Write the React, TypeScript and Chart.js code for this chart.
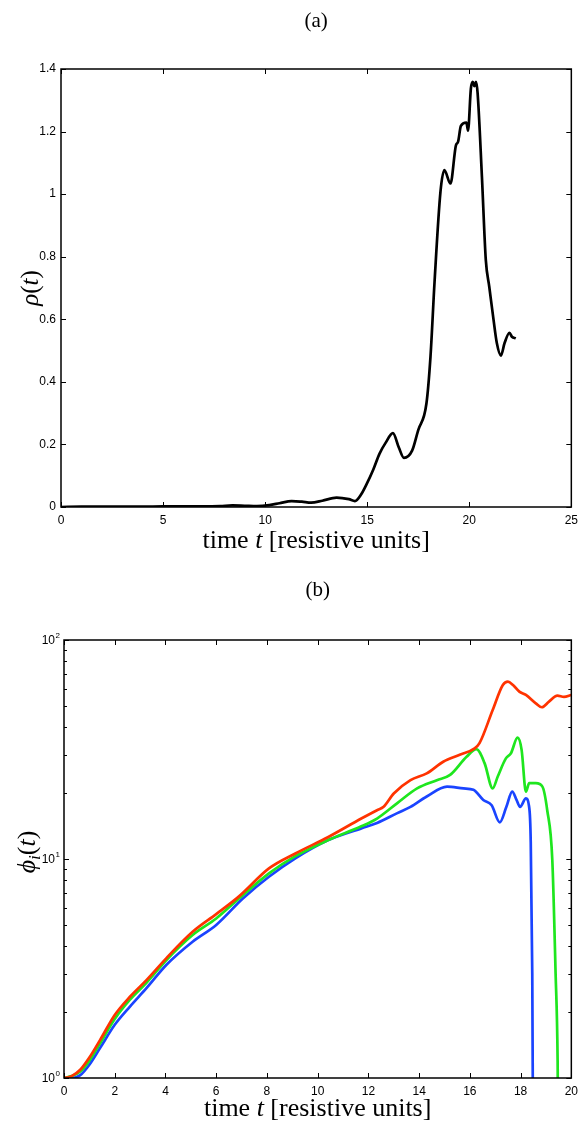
import React, { useEffect, useRef } from 'react';
import { Chart, registerables } from 'chart.js';

Chart.register(...registerables);

// ---------- Panel (a): rho(t) ----------
const rhoTime = [0, 1, 2, 3, 4, 5, 6, 7, 7.8, 8.4, 9.0, 9.6, 10.2, 10.7, 11.3, 11.8, 12.25, 12.8, 13.5, 14.1, 14.4, 14.7, 15.0, 15.3, 15.6, 15.9, 16.26, 16.55, 16.8, 17.2, 17.5, 17.9, 18.1, 18.3, 18.59, 18.78, 19.08, 19.35, 19.45, 19.59, 19.86, 19.94, 20.08, 20.17, 20.25, 20.33, 20.41, 20.62, 20.81, 20.98, 21.19, 21.35, 21.55, 21.73, 21.97, 22.09, 22.28];
const rhoValues = [0, 0.001, 0.001, 0.001, 0.001, 0.002, 0.002, 0.002, 0.003, 0.005, 0.004, 0.003, 0.006, 0.012, 0.019, 0.017, 0.014, 0.02, 0.03, 0.025, 0.019, 0.04, 0.077, 0.12, 0.17, 0.205, 0.236, 0.19, 0.157, 0.18, 0.246, 0.33, 0.48, 0.72, 1.008, 1.077, 1.034, 1.157, 1.167, 1.218, 1.229, 1.203, 1.338, 1.359, 1.345, 1.359, 1.322, 1.056, 0.79, 0.704, 0.598, 0.524, 0.484, 0.524, 0.557, 0.544, 0.539];
const xTicksA = [0, 5, 10, 15, 20, 25];
const yTicksA = [0, 0.2, 0.4, 0.6, 0.8, 1, 1.2, 1.4];

// ---------- Panel (b): phi_i(t) ----------
const redTime = [0, 0.3, 0.64, 1.0, 1.42, 2.0, 2.6, 3.25, 4.03, 5.07, 6.0, 6.9, 8.08, 9.12, 10.42, 11.72, 12.34, 12.6, 13.0, 13.66, 14.3, 14.95, 15.6, 16.19, 16.38, 16.9, 17.3, 17.5, 17.7, 17.95, 18.21, 18.6, 18.84, 19.12, 19.45, 19.71, 20.0];
const redPhi = [1.0, 1.02, 1.09, 1.24, 1.49, 1.94, 2.35, 2.8, 3.52, 4.65, 5.6, 6.75, 9.06, 10.6, 12.6, 15.3, 16.7, 17.3, 19.9, 22.9, 24.6, 27.8, 29.9, 32.0, 33.8, 47.9, 62.3, 64.5, 62.3, 58.1, 56.1, 51.4, 49.3, 52.3, 55.7, 55.0, 56.1];
const greenTime = [0, 0.3, 0.64, 1.0, 1.42, 2.0, 2.6, 3.25, 4.03, 5.07, 6.0, 6.9, 8.08, 9.12, 10.42, 11.72, 12.34, 13.14, 13.92, 14.7, 15.22, 15.87, 16.26, 16.58, 16.9, 17.1, 17.42, 17.62, 17.88, 18.04, 18.21, 18.34, 18.6, 18.86, 19.05, 19.25, 19.38, 19.46, 19.5];
const greenPhi = [1.0, 1.02, 1.07, 1.2, 1.44, 1.86, 2.28, 2.72, 3.45, 4.5, 5.35, 6.6, 8.6, 10.3, 12.2, 14.1, 15.3, 18.0, 21.0, 22.9, 24.2, 29.3, 31.7, 27.4, 21.0, 23.8, 28.8, 30.4, 35.8, 31.5, 20.3, 22.2, 22.2, 21.4, 16.7, 9.9, 3.0, 1.2, 0.3];
const blueTime = [0, 0.3, 0.64, 1.0, 1.42, 2.0, 2.6, 3.25, 4.03, 5.07, 6.0, 7.05, 8.08, 9.12, 10.42, 11.72, 12.34, 13.14, 13.66, 14.3, 15.1, 15.75, 16.14, 16.53, 16.86, 17.18, 17.44, 17.67, 17.84, 17.98, 18.21, 18.33, 18.4, 18.46, 18.5];
const bluePhi = [1.0, 1.0, 1.03, 1.15, 1.37, 1.75, 2.12, 2.57, 3.28, 4.19, 5.0, 6.6, 8.3, 10.07, 12.2, 13.8, 14.6, 16.2, 17.3, 19.3, 21.4, 21.0, 20.7, 18.6, 17.6, 14.7, 17.3, 20.3, 18.6, 17.3, 18.9, 17.5, 12.0, 3.0, 0.3];
const xTicksB = [0, 2, 4, 6, 8, 10, 12, 14, 16, 18, 20];
const logTicksB = [1, 2, 3, 4, 5, 6, 7, 8, 9, 10, 20, 30, 40, 50, 60, 70, 80, 90, 100];
const logMajorB = [1, 10, 100];
const logExponentsB = ['0', '1', '2'];

const SANS = '"Liberation Sans", Arial, Helvetica, sans-serif';
const SERIF = '"Liberation Serif", "Times New Roman", serif';

type Run = { text: string; size: number; italic?: boolean; dy?: number };

function runWidth(ctx: CanvasRenderingContext2D, r: Run) {
  ctx.font = `${r.italic ? 'italic ' : ''}${r.size}px ${SERIF}`;
  return ctx.measureText(r.text).width;
}

function drawRuns(ctx: CanvasRenderingContext2D, runs: Run[], cx: number, cy: number, rotate: boolean) {
  ctx.save();
  ctx.translate(cx, cy);
  if (rotate) ctx.rotate(-Math.PI / 2);
  ctx.fillStyle = '#000';
  ctx.textBaseline = 'alphabetic';
  ctx.textAlign = 'left';
  const total = runs.reduce((s, r) => s + runWidth(ctx, r), 0);
  let x = -total / 2;
  for (const r of runs) {
    const w = runWidth(ctx, r);
    ctx.font = `${r.italic ? 'italic ' : ''}${r.size}px ${SERIF}`;
    ctx.fillText(r.text, x, 7 + (r.dy || 0));
    x += w;
  }
  ctx.restore();
}

function makeDecor(cfg: {
  title: string;
  titleY: number;
  xLabelY: number;
  yLabel: Run[];
  yLabelX: number;
  yLabelY: number;
  logLabels?: boolean;
}) {
  return {
    id: 'decor',
    afterDatasetsDraw(chart: any) {
      const { ctx, chartArea: a } = chart;
      const xs = chart.scales.x;
      const ys = chart.scales.y;
      ctx.save();
      ctx.strokeStyle = '#000';
      ctx.lineWidth = 1;
      ctx.beginPath();
      xs.ticks.forEach((t: any) => {
        const px = Math.round(xs.getPixelForValue(t.value)) + 0.5;
        ctx.moveTo(px, a.bottom);
        ctx.lineTo(px, a.bottom - 5);
        ctx.moveTo(px, a.top);
        ctx.lineTo(px, a.top + 5);
      });
      ys.ticks.forEach((t: any) => {
        const major = !cfg.logLabels || logMajorB.includes(t.value);
        const len = major ? 5 : 3;
        const py = Math.round(ys.getPixelForValue(t.value)) + 0.5;
        ctx.moveTo(a.left, py);
        ctx.lineTo(a.left + len, py);
        ctx.moveTo(a.right, py);
        ctx.lineTo(a.right - len, py);
      });
      ctx.stroke();
      ctx.lineWidth = 1.5;
      ctx.strokeRect(a.left, a.top, a.right - a.left, a.bottom - a.top);

      if (cfg.logLabels) {
        ctx.fillStyle = '#000';
        logMajorB.forEach((v, i) => {
          const py = ys.getPixelForValue(v);
          ctx.font = `12px ${SANS}`;
          ctx.textAlign = 'right';
          ctx.textBaseline = 'middle';
          ctx.fillText('10', a.left - 9, py + 1);
          ctx.font = `8px ${SANS}`;
          ctx.textAlign = 'left';
          ctx.fillText(logExponentsB[i], a.left - 8.5, py - 4);
        });
      }

      const cx = (a.left + a.right) / 2;
      drawRuns(ctx, [{ text: cfg.title, size: 21 }], cx, cfg.titleY, false);
      drawRuns(
        ctx,
        [
          { text: 'time ', size: 26 },
          { text: 't', size: 26, italic: true },
          { text: ' [resistive units]', size: 26 },
        ],
        cx,
        cfg.xLabelY,
        false
      );
      drawRuns(ctx, cfg.yLabel, cfg.yLabelX, cfg.yLabelY, true);
      ctx.restore();
    },
  };
}

function ChartA() {
  const ref = useRef<HTMLCanvasElement>(null);
  useEffect(() => {
    const chart = new Chart(ref.current!, {
      type: 'line',
      data: {
        datasets: [
          {
            data: rhoTime.map((t, i) => ({ x: t, y: rhoValues[i] })),
            borderColor: '#000',
            borderWidth: 2.7,
            pointRadius: 0,
            cubicInterpolationMode: 'monotone',
            fill: false,
          },
        ],
      },
      options: {
        animation: false,
        responsive: false,
        devicePixelRatio: 1,
        layout: { padding: { top: 69, left: 0, right: 11, bottom: 0 } },
        plugins: { legend: { display: false }, tooltip: { enabled: false }, title: { display: false } },
        scales: {
          x: {
            type: 'linear',
            min: 0,
            max: 25,
            afterBuildTicks: (s: any) => {
              s.ticks = xTicksA.map((v) => ({ value: v }));
            },
            afterFit: (s: any) => {
              s.height = 58;
            },
            grid: { display: false, drawTicks: false },
            border: { display: false },
            ticks: { padding: 6, font: { family: SANS, size: 12 }, color: '#000', maxRotation: 0, autoSkip: false },
          },
          y: {
            type: 'linear',
            min: 0,
            max: 1.4,
            afterBuildTicks: (s: any) => {
              s.ticks = yTicksA.map((v) => ({ value: v }));
            },
            afterFit: (s: any) => {
              s.width = 61;
            },
            grid: { display: false, drawTicks: false },
            border: { display: false },
            ticks: {
              padding: 5,
              font: { family: SANS, size: 12 },
              color: '#000',
              autoSkip: false,
              callback: (v: any) => String(Math.round(Number(v) * 10) / 10),
            },
          },
        },
      },
      plugins: [
        makeDecor({
          title: '(a)',
          titleY: 20,
          xLabelY: 541,
          yLabel: [
            { text: 'ρ', size: 25, italic: true },
            { text: '(', size: 25 },
            { text: 't', size: 25, italic: true },
            { text: ')', size: 25 },
          ],
          yLabelX: 31,
          yLabelY: 288,
        }),
      ],
    } as any);
    return () => chart.destroy();
  }, []);
  return <canvas ref={ref} width={584} height={565} style={{ position: 'absolute', left: 0, top: 0 }} />;
}

function ChartB() {
  const ref = useRef<HTMLCanvasElement>(null);
  useEffect(() => {
    const mk = (t: number[], v: number[], color: string) => ({
      data: t.map((x, i) => ({ x, y: v[i] })),
      borderColor: color,
      borderWidth: 2.7,
      pointRadius: 0,
      cubicInterpolationMode: 'monotone',
      fill: false,
    });
    const chart = new Chart(ref.current!, {
      type: 'line',
      data: {
        datasets: [
          mk(redTime, redPhi, '#ff3300'),
          mk(greenTime, greenPhi, '#1ee61e'),
          mk(blueTime, bluePhi, '#1a44ff'),
        ],
      },
      options: {
        animation: false,
        responsive: false,
        devicePixelRatio: 1,
        layout: { padding: { top: 75, left: 0, right: 8, bottom: 0 } },
        plugins: { legend: { display: false }, tooltip: { enabled: false }, title: { display: false } },
        scales: {
          x: {
            type: 'linear',
            min: 0,
            max: 20,
            afterBuildTicks: (s: any) => {
              s.ticks = xTicksB.map((v) => ({ value: v }));
            },
            afterFit: (s: any) => {
              s.height = 43;
            },
            grid: { display: false, drawTicks: false },
            border: { display: false },
            ticks: { padding: 6, font: { family: SANS, size: 12 }, color: '#000', maxRotation: 0, autoSkip: false },
          },
          y: {
            type: 'logarithmic',
            min: 1,
            max: 100,
            afterBuildTicks: (s: any) => {
              s.ticks = logTicksB.map((v) => ({ value: v, major: logMajorB.includes(v) }));
            },
            afterFit: (s: any) => {
              s.width = 64;
            },
            grid: { display: false, drawTicks: false },
            border: { display: false },
            ticks: { display: false, autoSkip: false },
          },
        },
      },
      plugins: [
        makeDecor({
          title: '(b)',
          titleY: 24,
          xLabelY: 544,
          yLabel: [
            { text: 'ϕ', size: 26, italic: true },
            { text: 'i', size: 17, italic: true, dy: 5 },
            { text: '(', size: 26 },
            { text: 't', size: 26, italic: true },
            { text: ')', size: 26 },
          ],
          yLabelX: 28,
          yLabelY: 287,
          logLabels: true,
        }),
      ],
    } as any);
    return () => chart.destroy();
  }, []);
  return <canvas ref={ref} width={584} height={556} style={{ position: 'absolute', left: 0, top: 565 }} />;
}

export default function App() {
  return (
    <div style={{ position: 'absolute', left: 0, top: 0, width: 584, height: 1121, background: '#fff' }}>
      <ChartA />
      <ChartB />
    </div>
  );
}
